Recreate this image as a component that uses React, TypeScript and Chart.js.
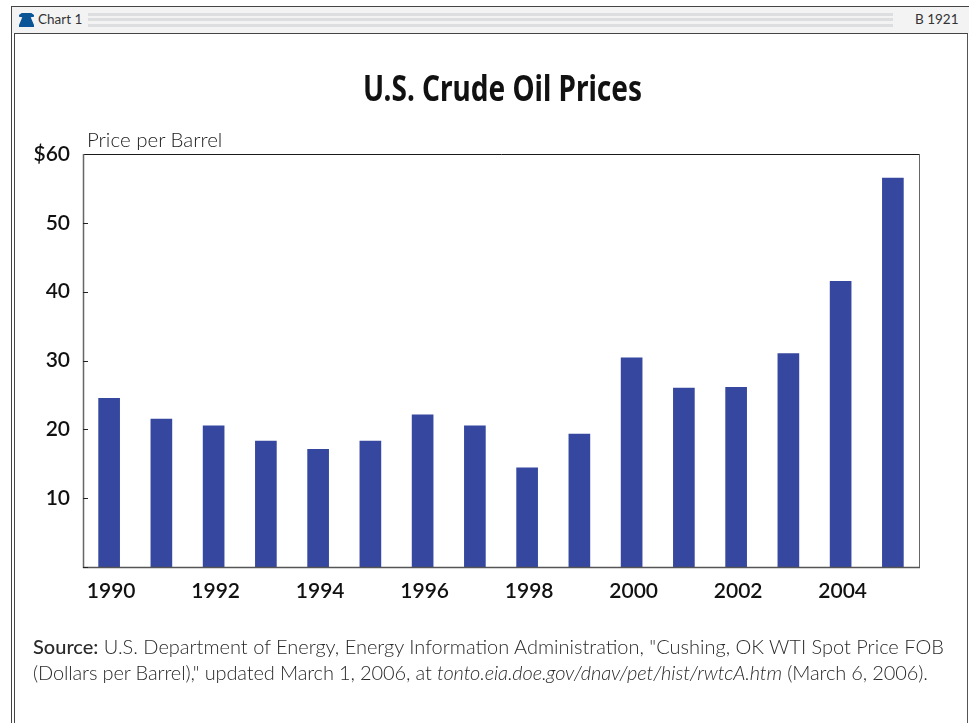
import React, { useEffect, useRef } from "react";
import { Chart, registerables } from "chart.js";

Chart.register(...registerables);

const years = ["1990","1991","1992","1993","1994","1995","1996","1997","1998","1999","2000","2001","2002","2003","2004","2005"];
const prices = [24.5,21.5,20.5,18.3,17.1,18.3,22.1,20.5,14.4,19.3,30.4,26.0,26.1,31.0,41.5,56.5];
const yTicks = [10,20,30,40,50,60];
const titleText = "U.S. Crude Oil Prices";
const unitText = "Price per Barrel";
const headLeft = "Chart 1";
const headRight = "B 1921";
const sourceLine2 = "(Dollars per Barrel),\" updated March 1, 2006, at ";
const sourceLink = "tonto.eia.doe.gov/dnav/pet/hist/rwtcA.htm";

const PLOT = { left: 83, top: 154, right: 919, bottom: 567 };
const XAXIS_H = 50;
const FONT = "Lato, 'Noto Sans', sans-serif";

const abs = (s: React.CSSProperties): React.CSSProperties => ({ position: "absolute", whiteSpace: "nowrap", ...s });

export default function App() {
  const ref = useRef<HTMLCanvasElement | null>(null);
  useEffect(() => {
    document.body.style.margin = "0";
    const frame = {
      id: "frame",
      afterDatasetsDraw(c: any) {
        const g = c.ctx;
        const a = c.chartArea;
        const seg = (x1: number, y1: number, x2: number, y2: number, col: string, w: number) => {
          g.strokeStyle = col;
          g.lineWidth = w;
          g.beginPath();
          g.moveTo(x1, y1);
          g.lineTo(x2, y2);
          g.stroke();
        };
        g.save();
        seg(a.left, a.top + 0.5, a.right + 0.5, a.top + 0.5, "#1a1a1a", 1);
        seg(a.left + 0.5, a.top, a.left + 0.5, a.bottom + 1, "#666", 1.5);
        seg(a.right + 0.5, a.top, a.right + 0.5, a.bottom + 1, "#666", 1);
        seg(a.left, a.bottom + 0.5, a.right + 1, a.bottom + 0.5, "#555", 1.5);
        for (const v of [0, ...yTicks.slice(0, -1)]) {
          const y = Math.round(c.scales.y.getPixelForValue(v)) + 0.5;
          seg(a.left, y, a.left + 5, y, "#222", 1);
        }
        g.restore();
      },
    };
    const chart = new Chart(ref.current!, {
      type: "bar",
      data: { labels: years, datasets: [{ data: prices, backgroundColor: "#35479f", barThickness: 21 }] },
      plugins: [frame],
      options: {
        animation: false,
        responsive: false,
        layout: { padding: { top: PLOT.top, right: 969 - PLOT.right, bottom: 723 - PLOT.bottom - XAXIS_H, left: 0 } },
        plugins: { legend: { display: false }, title: { display: false }, tooltip: { enabled: false } },
        scales: {
          x: {
            grid: { display: false },
            border: { display: false },
            afterFit(s: any) { s.height = XAXIS_H; },
            ticks: {
              autoSkip: false, maxRotation: 0, padding: 4, labelOffset: 2, color: "#111",
              font: { family: FONT, size: 21, weight: "600" },
              callback(_v: any, i: number) { return i % 2 === 0 ? years[i] : ""; },
            },
          },
          y: {
            min: 0, max: 60,
            afterFit(s: any) { s.width = PLOT.left; },
            afterBuildTicks(s: any) { s.ticks = yTicks.map((value) => ({ value })); },
            grid: { display: false },
            border: { display: false },
            ticks: {
              padding: 5, color: "#111",
              font: { family: FONT, size: 21, weight: "600" },
              callback(v: any) { return v === 60 ? "$60" : String(v); },
            },
          },
        },
      },
    } as any);
    return () => chart.destroy();
  }, []);

  const src: React.CSSProperties = { left: 33, fontFamily: FONT, fontSize: 20, color: "#2a2a2a", fontWeight: 300 };
  return (
    <div style={{ position: "relative", width: 969, height: 723, overflow: "hidden", background: "#fff" }}>
      <canvas ref={ref} width={969} height={723} style={{ position: "absolute", left: 0, top: 0, display: "block" }} />
      <div style={abs({ left: 11, top: 6, width: 975, height: 760, border: "1px solid #444", boxSizing: "border-box" })} />
      <div style={abs({ left: 14, top: 33, width: 954, height: 760, borderLeft: "1px solid #444", borderTop: "1px solid #444", borderRight: "1px solid #555", boxSizing: "border-box" })} />
      <div style={abs({ left: 12, top: 7, width: 957, height: 26, background: "#f3f3f3" })} />
      <div style={abs({ left: 88, top: 13, width: 805, height: 14, background: "repeating-linear-gradient(#dcdee0 0 3px, #f3f3f3 3px 5.5px)" })} />
      <div style={abs({ left: 38, top: 11, fontFamily: FONT, fontSize: 13.5, color: "#333" })}>{headLeft}</div>
      <div style={abs({ left: 915, top: 11, fontFamily: FONT, fontSize: 13.5, color: "#333" })}>{headRight}</div>
      <div style={abs({ left: 19, top: 13, width: 15, height: 14, background: "#0b5596", clipPath: "polygon(0 14%,18% 0,82% 0,100% 14%,100% 26%,78% 30%,100% 86%,100% 100%,0 100%,0 86%,22% 30%,0 26%)" })} />
      <div style={abs({ left: 363, top: 64, fontFamily: "'Noto Sans', sans-serif", fontWeight: 700, fontSize: 35, color: "#111", transform: "scaleX(0.8)", transformOrigin: "left center" })}>{titleText}</div>
      <div style={abs({ left: 87, top: 127, fontFamily: FONT, fontWeight: 300, fontSize: 20.5, color: "#222" })}>{unitText}</div>
      <div style={abs({ ...src, top: 634 })}><b style={{ fontWeight: 500 }}>Source:</b> U.S. Department of Energy, Energy Information Administration, "Cushing, OK WTI Spot Price FOB</div>
      <div style={abs({ ...src, top: 660, letterSpacing: -0.13 })}>{sourceLine2}<i>{sourceLink}</i> (March 6, 2006).</div>
    </div>
  );
}
